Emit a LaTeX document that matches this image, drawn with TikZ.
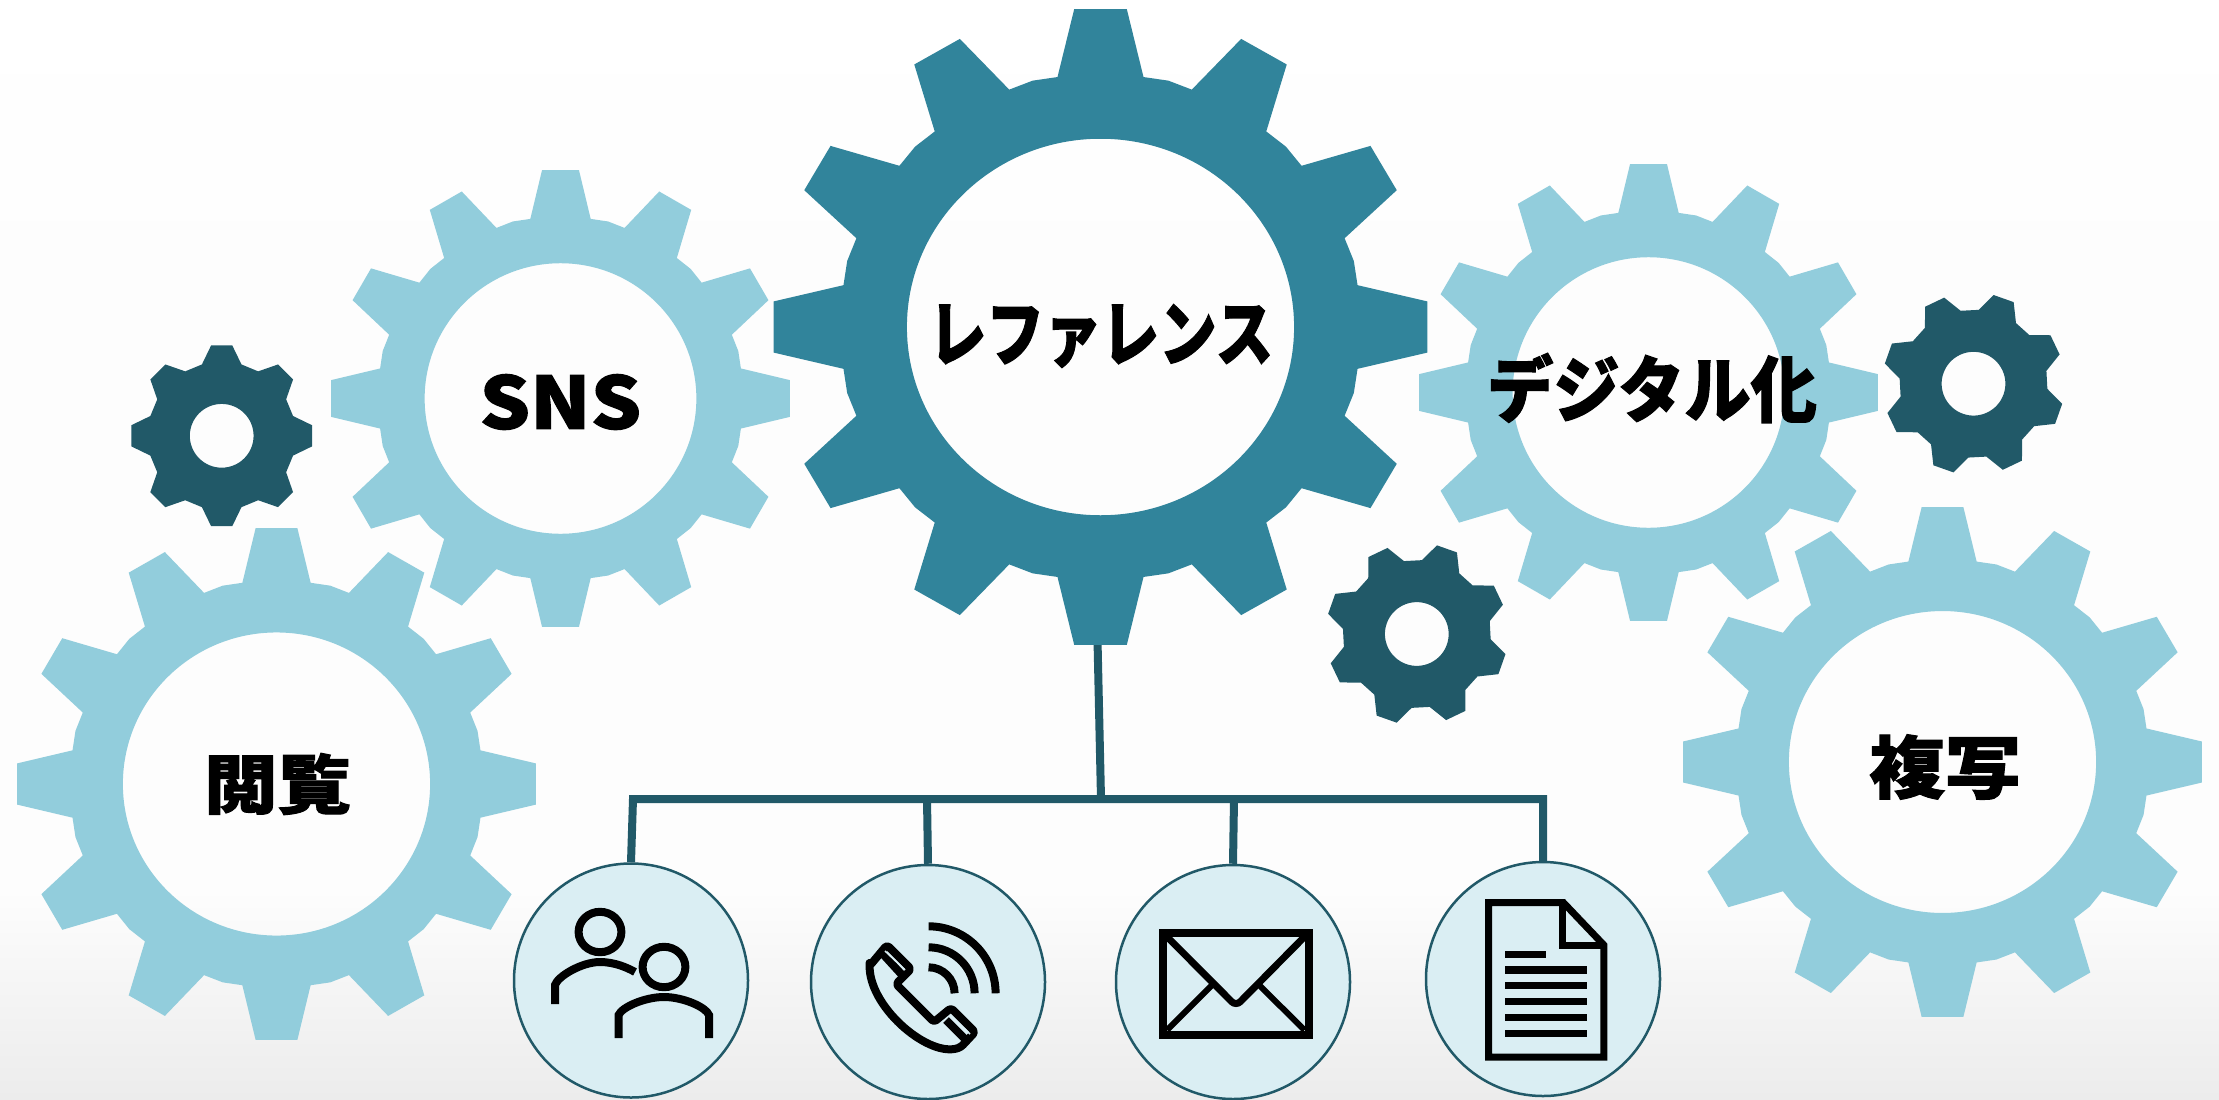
\documentclass[tikz,border=0pt]{standalone}
\usepackage{fontspec}
\usetikzlibrary{shapes, arrows.meta, positioning}
\newfontfamily\jpfont{Noto Sans CJK JP}[BoldFeatures={FakeBold=1.5}]
\definecolor{mainteal}{HTML}{31849B}
\definecolor{lightteal}{HTML}{92CDDC}
\definecolor{darkteal}{HTML}{215968}
\definecolor{paleteal}{HTML}{DAEEF3}
\tikzstyle{wheel} = [even odd rule]
\tikzstyle{gearname} = [font=\jpfont\bfseries\fontsize{72}{72}\selectfont, inner sep=0pt, transform shape]
\tikzstyle{contact} = [draw=darkteal, fill=paleteal, circle, line width=2.5pt, minimum size=234pt, inner sep=0pt]
\tikzstyle{bus} = [draw=darkteal, line width=8pt]
\tikzstyle{icon} = [draw=black, line width=8pt]
% #1 x, #2 y, #3 x radius, #4 y radius, #5 colour
\newcommand{\biggear}[5]{
    \fill [wheel, #5, shift={(#1pt,-#2pt)}, x=#3pt, y=#4pt] (99.5:.797)
        \foreach \a in {90,60,...,-240} {
            -- (\a+4.6:1.003) -- (\a-4.6:1.003) -- (\a-9.5:.797) -- (\a-15:.802) -- (\a-20.5:.797)
        } -- cycle (0,0) circle [radius=.592];
}
% #1 x, #2 y, #3 radius, #4 rotation
\newcommand{\smallgear}[4]{
    \fill [wheel, darkteal, shift={(#1pt,-#2pt)}, x=#3pt, y=#3pt, rotate=#4] (105.5:.82)
        \foreach \a in {90,45,...,-225} {
            -- (\a+15.5:.82) -- (\a+6.7:1.007) -- (\a-6.7:1.007) -- (\a-15.5:.82)
        } -- cycle (0,0) circle [radius=.353];
}

\begin{document}
\begin{tikzpicture}[x=1pt, y=-1pt]
    \useasboundingbox (0,0) rectangle (2219,1100);
    \shade [top color=white, bottom color=white!99.2!black] (0,0) rectangle (2219,300);
    \fill [white!99.2!black] (0,299) rectangle (2219,891);
    \shade [top color=white!99.2!black, bottom color=white!92.5!black] (0,890) rectangle (2219,1100);

    \biggear{560.5}{398.5}{229.5}{228.5}{lightteal}
    \biggear{1648.5}{392.5}{229.5}{228.5}{lightteal}
    \biggear{276.5}{784}{259.5}{256}{lightteal}
    \biggear{1942.5}{762}{259.5}{255}{lightteal}

    \coordinate (reftooth) at (1097.5,640);
    \coordinate (busleft) at (633,799);
    \coordinate (busright) at (1543,799);
    \coordinate (busmid) at (1101,799);
    \coordinate (busphone) at (927,799);
    \coordinate (busmail) at (1234,799);

    \node [contact] (people) at (631,980.5) {};
    \node [contact] (phone) at (928,982) {};
    \node [contact] (mail) at (1233,982) {};
    \node [contact] (doc) at (1543,979) {};

    \draw [bus] (people.north) -- (busleft) -- (busright) -- (doc.north);
    \draw [bus] (reftooth) -- (busmid);
    \draw [bus] (busphone) -- (phone.north);
    \draw [bus] (busmail) -- (mail.north);

    \biggear{1100.5}{327}{327}{318}{mainteal}
    \smallgear{221.7}{435.8}{90.3}{0}
    \smallgear{1973.5}{383.7}{90.3}{25.5}
    \smallgear{1416.8}{634}{90.3}{25.5}

    \node [gearname, xscale=.8] (reference) at (1101,336) {レファレンス};
    \node [gearname, xscale=1.1] (sns) at (560.5,402) {SNS};
    \node [gearname, xscale=.92] (digital) at (1652,388) {デジタル化};
    \node [gearname, xscale=1.02, yscale=.9] (browse) at (277.5,784) {閲覧};
    \node [gearname, xscale=1.05, yscale=.95] (copying) at (1945,767) {複写};

    % people
    \draw [icon] (600,932) ellipse [x radius=21.4, y radius=20.2];
    \draw [icon] (664,967) ellipse [x radius=21.4, y radius=20.2];
    \draw [icon] (555,1004) -- (555,985) .. controls (558,976) and (582,962) .. (600,962) .. controls (615,962) and (628,968) .. (635,972);
    \draw [icon] (618.6,1038) -- (618.6,1015) .. controls (622,1007) and (645,997) .. (664,997) .. controls (683,997) and (706,1007) .. (709,1015) -- (709,1038);

    % phone
    \draw [icon, line join=round, rounded corners=3pt] (869.5,966) -- (887,945) -- (911,969) -- (896,984) -- (934,1022) -- (951,1008) -- (975,1032) -- (961,1047) .. controls (930,1058) and (872,1010) .. (869.5,966) -- cycle;
    \draw [icon] (882,953) -- (903,976);
    \draw [icon] (946,1020) -- (965,1039);
    \draw [paleteal, line width=1.5pt] (885,951) -- (905,970);
    \draw [paleteal, line width=1.5pt] (951,1016) -- (970,1034);
    \foreach \r in {26,46,67}
        \draw [icon] (928.6,993.3-\r) arc [start angle=-90, end angle=0, radius=\r];

    % mail
    \draw [icon] (1162.5,932.5) rectangle (1309,1035);
    \draw [icon, rounded corners=6pt, line width=7pt] (1167,936.7) -- (1236,1006) -- (1304.5,936.7);
    \draw [icon, line width=6pt] (1167,1030) -- (1212,985);
    \draw [icon, line width=6pt] (1304.5,1030) -- (1259,985);

    % document
    \draw [icon, line width=7pt] (1488.5,902.5) -- (1563.3,902.5) -- (1603.8,945) -- (1603.8,1057) -- (1488.5,1057) -- cycle;
    \draw [icon, line width=7pt] (1562,902.5) -- (1562,945) -- (1603.8,945);
    \draw [icon, line width=7.3pt] (1505,954.3) -- (1546,954.3);
    \foreach \y in {970,985.7,1001.7,1017.3,1033.3}
        \draw [icon, line width=7.3pt] (1505,\y) -- (1587.4,\y);
\end{tikzpicture}
\end{document}
